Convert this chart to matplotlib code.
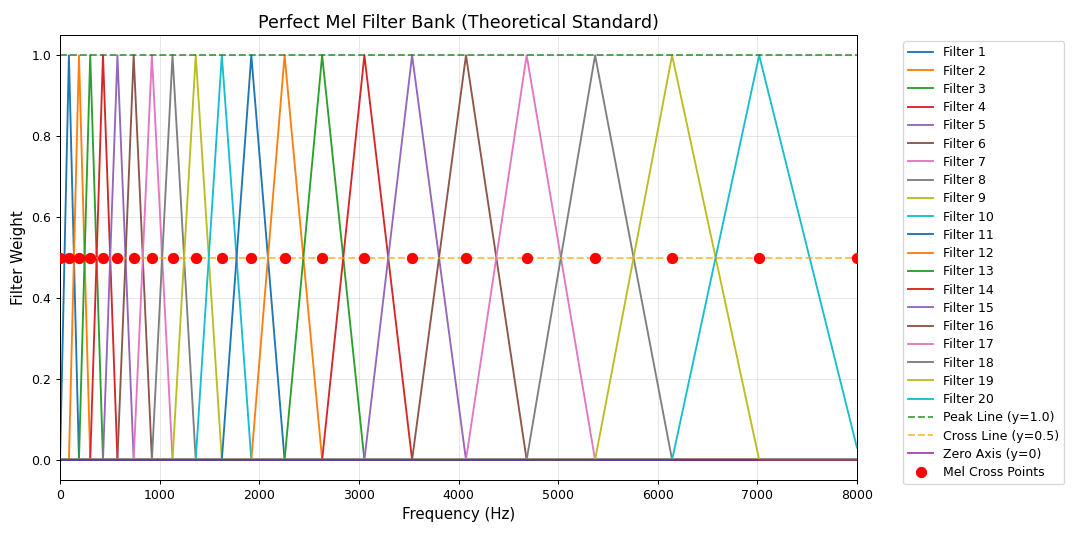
import matplotlib
matplotlib.use('Agg')
import matplotlib.pyplot as plt

# 읽어낸 멜 경계 주파수 (Hz) - 22개 (필터 20개 + 양끝)
mel_points_hz = [0, 89, 190, 303, 431, 576, 739, 922, 1129, 1362, 1624,
                 1920, 2254, 2631, 3055, 3534, 4075, 4684, 5371, 6144, 7018, 8000]
n_filters = 20
f_max = 8000
peak_level = 1.0
cross_level = 0.5
last_edge_value = 0.03  # 마지막 필터가 8000 Hz에서 끝나는 값

fig, ax = plt.subplots(figsize=(12, 6), dpi=90)

# 삼각 필터
for i in range(n_filters):
    left, center, right = mel_points_hz[i], mel_points_hz[i + 1], mel_points_hz[i + 2]
    if i == n_filters - 1:
        xs = [0, left, center, right]
        ys = [0, 0, peak_level, last_edge_value]
    else:
        xs = [0, left, center, right, f_max]
        ys = [0, 0, peak_level, 0, 0]
    ax.plot(xs, ys, lw=1.5, label=f'Filter {i + 1}')

# 기준선
ax.axhline(peak_level, color='g', linestyle='--', alpha=0.7, lw=1.5, label='Peak Line (y=1.0)')
ax.axhline(cross_level, color='orange', linestyle='--', alpha=0.7, lw=1.5, label='Cross Line (y=0.5)')
ax.axhline(0, color='purple', linestyle='-', alpha=0.7, lw=1.5, label='Zero Axis (y=0)')

# 멜 포인트
ax.plot(mel_points_hz, [cross_level] * len(mel_points_hz), 'o', color='red',
        markersize=8, linestyle='none', label='Mel Cross Points', zorder=5)

ax.set_xlim(0, f_max)
ax.set_ylim(-0.05, 1.05)
ax.set_title('Perfect Mel Filter Bank (Theoretical Standard)', fontsize=14)
ax.set_xlabel('Frequency (Hz)', fontsize=12)
ax.set_ylabel('Filter Weight', fontsize=12)
ax.grid(True, alpha=0.3)
ax.legend(bbox_to_anchor=(1.05, 1), loc='upper left', labelspacing=0.42)

fig.subplots_adjust(left=0.0556, right=0.7935, top=0.935, bottom=0.111)
plt.savefig('out.png', dpi=90)
